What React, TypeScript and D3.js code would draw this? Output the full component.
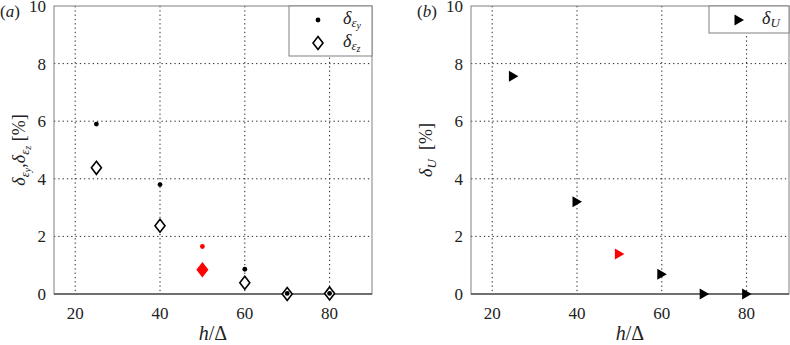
import React from "react";
import * as d3 from "d3";

// h/Delta resolution values
const hDelta = [25, 40, 50, 60, 70, 80];
const epsY = [5.9, 3.8, 1.65, 0.86, 0.02, 0.02];
const epsZ = [4.38, 2.37, 0.84, 0.39, 0.0, 0.02];
const deltaU = [7.56, 3.2, 1.39, 0.69, 0.0, 0.0];
const highlightH = 50; // reference case drawn in red
const xTicks = [20, 40, 60, 80];
const yTicks = [0, 2, 4, 6, 8, 10];

const FONT = "Liberation Serif";
const TOP = 6;
const BOTTOM = 294;
const INK = "#222";

const yScale = d3.scaleLinear().domain([0, 10]).range([BOTTOM, TOP]);

const diamond = (cx: number, cy: number) =>
  `M${cx},${cy - 6.5}L${cx + 5},${cy}L${cx},${cy + 6.5}L${cx - 5},${cy}Z`;
const tri = (cx: number, cy: number) =>
  `M${cx - 4.5},${cy - 5.5}L${cx + 5},${cy}L${cx - 4.5},${cy + 5.5}Z`;

const Panel = ({ left, right, label, labelX, children }: any) => {
  const x = d3.scaleLinear().domain([15, 90]).range([left, right]);
  return (
    <g>
      {xTicks.map((d) => (
        <line key={"gx" + d} x1={x(d)} x2={x(d)} y1={TOP} y2={BOTTOM} stroke={INK} strokeDasharray="1.3,3" />
      ))}
      {yTicks
        .filter((d) => d > 0 && d < 10)
        .map((d) => (
          <line key={"gy" + d} x1={left} x2={right} y1={yScale(d)} y2={yScale(d)} stroke={INK} strokeDasharray="1.3,3" />
        ))}
      <rect x={left} y={TOP} width={right - left} height={BOTTOM - TOP} fill="none" stroke="#808080" />
      <line x1={left} x2={right} y1={BOTTOM} y2={BOTTOM} stroke="#555" strokeWidth={1.5} />
      {xTicks.map((d) => (
        <text key={"tx" + d} fontFamily={FONT} fontSize={17} fill={INK} x={x(d)} y={319} textAnchor="middle">
          {d}
        </text>
      ))}
      {yTicks.map((d) => (
        <text key={"ty" + d} fontFamily={FONT} fontSize={17} fill={INK} x={left - 8} y={yScale(d) + 6} textAnchor="end">
          {d}
        </text>
      ))}
      <text fontFamily={FONT} fontSize={20} fill={INK} x={(left + right) / 2} y={340} textAnchor="middle">
        <tspan fontStyle="italic">h</tspan>/Δ
      </text>
      <text fontFamily={FONT} fontSize={17} fill={INK} x={labelX} y={17}>
        (<tspan fontStyle="italic">{label}</tspan>)
      </text>
      {children(x)}
    </g>
  );
};

const App = () => {
  return (
    <div style={{ position: "absolute", left: 0, top: 0 }}>
      <svg width="790" height="345" fontFamily={FONT} style={{ display: "block", background: "white" }}>
        <Panel left={54} right={372} label="a" labelX={0}>
          {(x: any) => (
            <g>
              <text fontFamily={FONT} fontSize={18} fill={INK} textAnchor="middle" transform={`translate(25,${(TOP + BOTTOM) / 2}) rotate(-90)`}>
                <tspan fontStyle="italic">δ</tspan>
                <tspan fontStyle="italic" fontSize={13} dy={4}>ε</tspan>
                <tspan fontStyle="italic" fontSize={10} dy={2}>y</tspan>
                <tspan dy={-6}>,</tspan>
                <tspan fontStyle="italic">δ</tspan>
                <tspan fontStyle="italic" fontSize={13} dy={4}>ε</tspan>
                <tspan fontStyle="italic" fontSize={10} dy={2}>z</tspan>
                <tspan dy={-6}>{"\u00a0[%]"}</tspan>
              </text>
              {hDelta.map((h, i) => (
                <path
                  key={"dz" + h}
                  d={diamond(x(h), yScale(epsZ[i]))}
                  fill={h === highlightH ? "#ff0000" : "white"}
                  stroke={h === highlightH ? "#ff0000" : "black"}
                  strokeWidth={1.6}
                />
              ))}
              {hDelta.map((h, i) => (
                <circle key={"dy" + h} cx={x(h)} cy={yScale(epsY[i])} r={2.4} fill={h === highlightH ? "#ff0000" : "black"} />
              ))}
              <rect x={289} y={TOP} width={372 - 289} height={50} fill="white" stroke="#808080" />
              <circle cx={318} cy={20} r={2.4} fill="black" />
              <path d={diamond(318, 43)} fill="white" stroke="black" strokeWidth={1.6} />
              <text fontFamily={FONT} fontSize={18} fill={INK} x={343} y={24} fontStyle="italic">
                δ<tspan fontSize={13} dy={3}>ε</tspan>
                <tspan fontSize={10} dy={2}>y</tspan>
              </text>
              <text fontFamily={FONT} fontSize={18} fill={INK} x={343} y={47} fontStyle="italic">
                δ<tspan fontSize={13} dy={3}>ε</tspan>
                <tspan fontSize={10} dy={2}>z</tspan>
              </text>
            </g>
          )}
        </Panel>
        <Panel left={471} right={789} label="b" labelX={417}>
          {(x: any) => (
            <g>
              <text fontFamily={FONT} fontSize={18} fill={INK} textAnchor="middle" transform={`translate(432,${(TOP + BOTTOM) / 2}) rotate(-90)`}>
                <tspan fontStyle="italic">δ</tspan>
                <tspan fontStyle="italic" fontSize={13} dy={4}>U</tspan>
                <tspan dy={-4}>{"\u00a0\u00a0[%]"}</tspan>
              </text>
              {hDelta.map((h, i) => (
                <path key={"tu" + h} d={tri(x(h), yScale(deltaU[i]))} fill={h === highlightH ? "#ff0000" : "black"} />
              ))}
              <rect x={709} y={TOP} width={789 - 709} height={27} fill="white" stroke="#808080" />
              <path d={tri(739, 20)} fill="black" />
              <text fontFamily={FONT} fontSize={18} fill={INK} x={762} y={24} fontStyle="italic">
                δ<tspan fontSize={13} dy={3}>U</tspan>
              </text>
            </g>
          )}
        </Panel>
      </svg>
    </div>
  );
};

export default App;
